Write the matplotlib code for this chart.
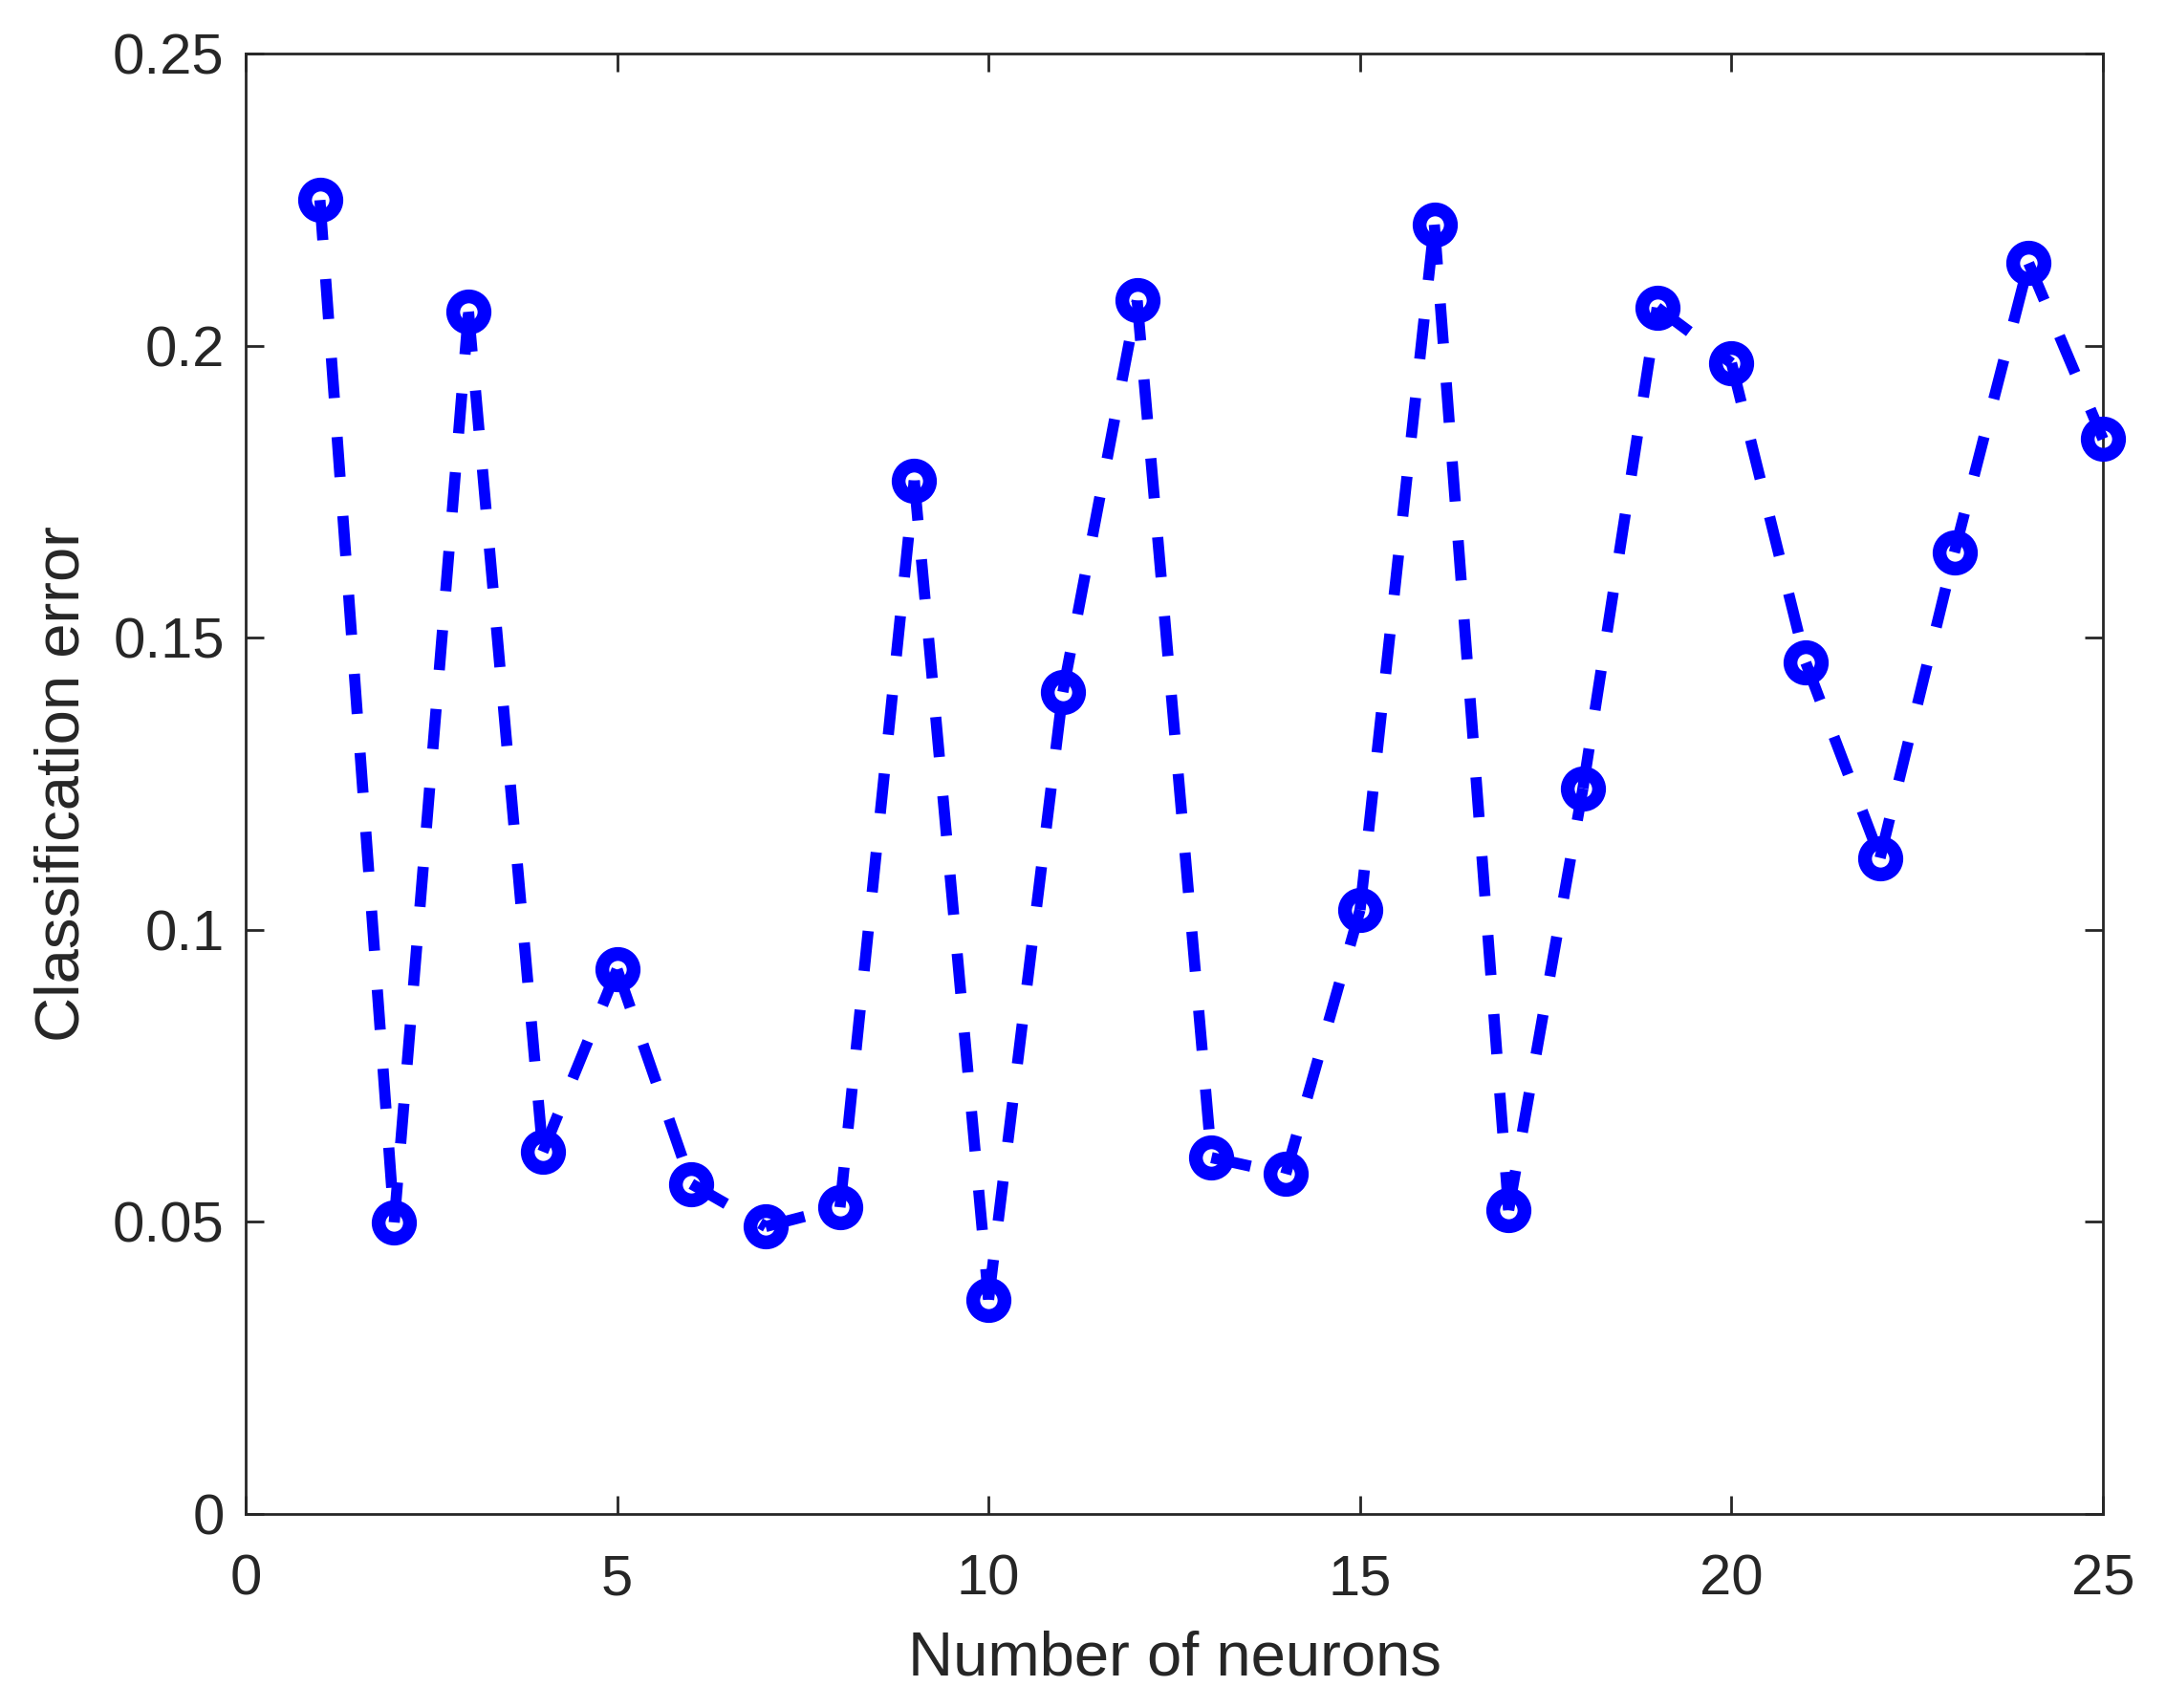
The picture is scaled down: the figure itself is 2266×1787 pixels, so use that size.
import numpy as np
import matplotlib
matplotlib.use('Agg')
import matplotlib.pyplot as plt

plt.rcParams['font.family'] = ['Liberation Sans', 'DejaVu Sans']

neurons = list(range(1, 26))
error = [0.2249, 0.0499, 0.2058, 0.0620, 0.0932, 0.0565, 0.0492, 0.0525, 0.1769, 0.0367,
         0.1407, 0.2077, 0.0610, 0.0582, 0.1034, 0.2207, 0.0520, 0.1242, 0.2065, 0.1970,
         0.1457, 0.1123, 0.1646, 0.2141, 0.1840]

blue = '#0000ff'
ink = '#262626'

fig = plt.figure(figsize=(11.33, 8.935), dpi=200)
ax = fig.add_axes([0.1134, 0.1136, 0.8575, 0.8551])

# markers first, then the dashed line on top
ax.plot(neurons, error, linestyle='none', marker='o', markersize=11.8,
        markerfacecolor='none', markeredgecolor=blue, markeredgewidth=5.2,
        clip_on=False, zorder=3)
# matlab-style export: dash pattern restarts at every point
for i in range(len(neurons) - 1):
    ax.plot(neurons[i:i + 2], error[i:i + 2], color=blue, linewidth=4.2,
            dashes=(3.6, 3.5), dash_capstyle='butt', clip_on=False, zorder=4)

ax.set_xlim(0, 25)
ax.set_ylim(0, 0.25)
ax.set_xticks([0, 5, 10, 15, 20, 25])
ax.set_yticks([0, 0.05, 0.1, 0.15, 0.2, 0.25])
ax.set_yticklabels(['0', '0.05', '0.1', '0.15', '0.2', '0.25'])
ax.tick_params(direction='in', top=True, right=True, length=7, width=1.0,
               color=ink, labelsize=21.5, labelcolor=ink)
ax.tick_params(axis='x', pad=15)
ax.tick_params(axis='y', pad=8)
for s in ax.spines.values():
    s.set_linewidth(1.0)
    s.set_color(ink)

ax.set_xlabel('Number of neurons', fontsize=23.5, color=ink, labelpad=9)
ax.set_ylabel('Classification error', fontsize=23.5, color=ink, labelpad=8)

fig.savefig('out.png', dpi=200, facecolor='white')
